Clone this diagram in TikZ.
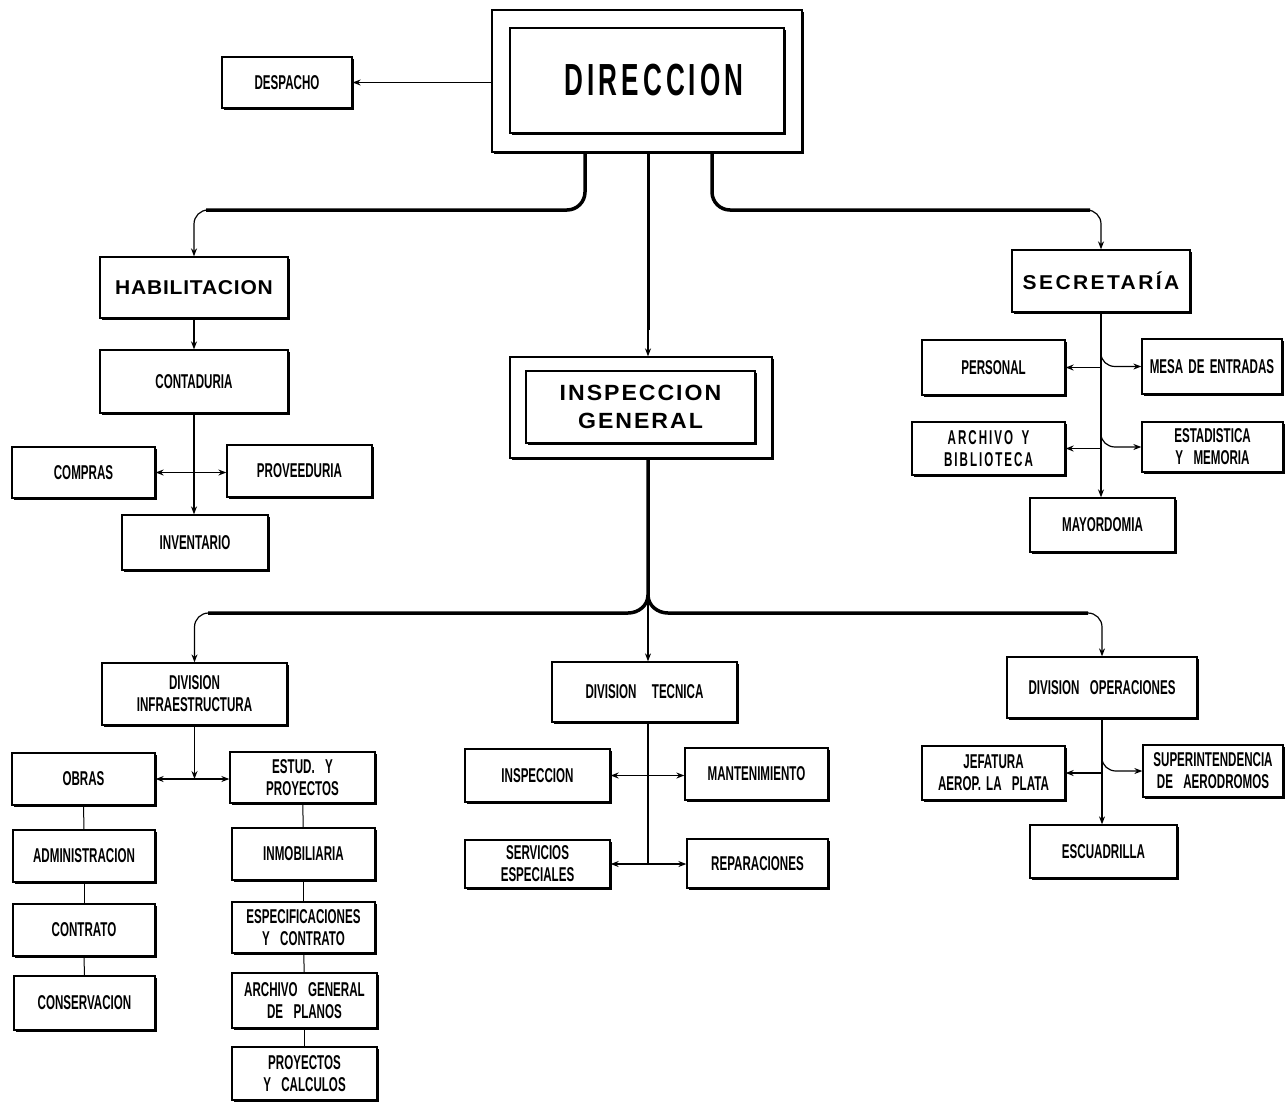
\documentclass[tikz,border=0pt]{standalone}
\usepackage{fontspec}
\usetikzlibrary{arrows.meta,shadows,calc}
\newfontfamily\condf{Liberation Sans Bold}[FakeStretch=0.58,WordSpace=1.6]
\newfontfamily\widef{Liberation Sans Bold}[FakeStretch=1.05,LetterSpace=4]
\newfontfamily\dirf{Liberation Sans Bold}[FakeStretch=0.58,LetterSpace=9]
\tikzset{
  box/.style={draw, line width=1.3pt, fill=white, inner sep=2pt, align=center,
    font=\condf\fontsize{20}{22}\selectfont,
    drop shadow={shadow xshift=2.2pt, shadow yshift=-2.2pt, opacity=1, fill=black}},
  widebox/.style={box, font=\widef\fontsize{20}{28}\selectfont},
  innerbox/.style={draw, line width=2.8pt, fill=white, inner sep=2pt, align=center},
  conn/.style={line width=1.2pt},
  plainconn/.style={line width=1pt},
  arr/.style={conn, -{Stealth[length=8pt,width=6pt]}},
  arrs/.style={conn, {Stealth[length=8pt,width=6pt]}-{Stealth[length=8pt,width=6pt]}},
  trunk/.style={line width=3.5pt},
}
\newcommand{\bx}[7][]{%
  \pgfmathsetmacro\bxcx{(#3+#5)/2}\pgfmathsetmacro\bxcy{(#4+#6)/2}%
  \pgfmathsetmacro\bxw{#5-#3}\pgfmathsetmacro\bxh{#6-#4}%
  \node[box,#1,minimum width=\bxw pt,minimum height=\bxh pt] (#2) at (\bxcx,\bxcy) {#7};}
\begin{document}
\begin{tikzpicture}[x=1pt,y=-1pt]
\useasboundingbox (0,0) rectangle (1287,1104);
% top
\bx{dir}{492}{10}{802}{152}{}
\bx[innerbox,font=\dirf\fontsize{45}{50}\selectfont]{dirin}{510}{28}{784}{133}{\hspace*{14pt}DIRECCION}
\bx{desp}{222}{57}{352}{108}{DESPACHO}
% left
\bx[widebox]{hab}{100}{257}{288}{318}{HABILITACION}
\bx{cont}{100}{350}{288}{413}{CONTADURIA}
\bx{compras}{12}{447}{155}{498}{COMPRAS}
\bx{prov}{227}{445}{372}{497}{PROVEEDURIA}
\bx{inv}{122}{515}{268}{570}{INVENTARIO}
% right
\bx[widebox,font=\widef\fontsize{20}{28}\selectfont\addfontfeature{LetterSpace=12}]{sec}{1012}{250}{1190}{312}{SECRETARÍA}
\bx{personal}{922}{340}{1065}{395}{PERSONAL}
\bx{mesa}{1142}{339}{1282}{394}{MESA DE ENTRADAS}
\bx[font=\condf\fontsize{20}{22}\selectfont\addfontfeature{LetterSpace=10}]{archivo}{912}{422}{1065}{475}{ARCHIVO Y\\BIBLIOTECA}
\bx{estad}{1142}{422}{1283}{472}{ESTADISTICA\\Y\ \ MEMORIA}
\bx{mayord}{1030}{498}{1175}{552}{MAYORDOMIA}
% centre
\bx{ig}{510}{357}{772}{458}{}
\bx[innerbox,font=\widef\fontsize{22}{28}\selectfont\addfontfeature{LetterSpace=9}]{igin}{526}{371}{755}{443}{INSPECCION\\GENERAL}
% bottom left
\bx{divinfra}{102}{663}{287}{725}{DIVISION\\INFRAESTRUCTURA}
\bx{obras}{12}{753}{155}{805}{OBRAS}
\bx{estud}{230}{752}{375}{803}{ESTUD.\ \ Y\\PROYECTOS}
\bx{admin}{13}{830}{155}{882}{ADMINISTRACION}
\bx{contrato}{13}{904}{155}{956}{CONTRATO}
\bx{conserv}{14}{976}{155}{1030}{CONSERVACION}
\bx{inmob}{232}{828}{375}{880}{INMOBILIARIA}
\bx{espec}{232}{902}{375}{953}{ESPECIFICACIONES\\Y\ \ CONTRATO}
\bx{archgen}{232}{973}{377}{1028}{ARCHIVO\ \ GENERAL\\DE\ \ PLANOS}
\bx{proycalc}{232}{1047}{377}{1100}{PROYECTOS\\Y\ \ CALCULOS}
% bottom centre
\bx{divtec}{552}{662}{737}{722}{DIVISION\ \ \ TECNICA}
\bx{inspeccion}{465}{749}{610}{802}{INSPECCION}
\bx{mant}{685}{748}{828}{800}{MANTENIMIENTO}
\bx{servicios}{465}{840}{610}{888}{SERVICIOS\\ESPECIALES}
\bx{repar}{687}{839}{828}{888}{REPARACIONES}
% bottom right
\bx{divop}{1007}{657}{1197}{718}{DIVISION\ \ OPERACIONES}
\bx{jefatura}{922}{746}{1065}{800}{JEFATURA\\AEROP.\ LA\ \ PLATA}
\bx{superint}{1143}{745}{1283}{797}{SUPERINTENDENCIA\\DE\ \ AERODROMOS}
\bx{escuad}{1030}{825}{1177}{878}{ESCUADRILLA}

% ---- connectors from DIRECCION
\draw[arr] (desp.east -| dir.west) -- (desp.east);
\coordinate (dL) at (585,153);
\coordinate (dM) at (648,153);
\coordinate (dR) at (712,153);
\draw[trunk, rounded corners=18pt] (dL) -- (585,210) -- (206,210);
\draw[arr, rounded corners=14pt] (212,210) -| (hab.north);
\draw[trunk, rounded corners=18pt] (dR) -- (712,210) -- (1090,210);
\draw[arr, rounded corners=14pt] (1084,210) -| (sec.north);
\draw[line width=3pt] (dM) -- (648,330);
\draw[arr] (648,320) -- (dM |- ig.north);

% ---- HABILITACION group
\draw[arr] (hab.south) -- (cont.north);
\draw[arr] (cont.south) -- (cont.south |- inv.north);
\draw[arrs] (compras.east) -- (compras.east -| prov.west);

% ---- SECRETARIA group
\draw[line width=2.6pt] (sec.south) -- ++(0,145);
\draw[arr] (sec.south) -- (sec.south |- mayord.north);
\draw[arr] (sec.south |- personal.east) -- (personal.east);
\draw[arr] ($(sec.south |- mesa.west)+(0,-13)$) to[out=-90,in=180] ($(sec.south |- mesa.west)+(14,0)$) -- (mesa.west);
\draw[arr] (sec.south |- archivo.east) -- (archivo.east);
\draw[arr] ($(sec.south |- estad.west)+(0,-13)$) to[out=-90,in=180] ($(sec.south |- estad.west)+(14,0)$) -- (estad.west);

% ---- INSPECCION GENERAL trunk
\coordinate (iM) at (dM |- ig.south);
\coordinate (iJ) at (648,600);
\draw[trunk] (iM) -- (648,595) to[out=-90,in=0] (628,613) -- (208,613);
\draw[trunk] (648,595) to[out=-90,in=180] (668,613) -- (1088,613);
\draw[arr, rounded corners=14pt] (214,613) -| (divinfra.north);
\draw[arr, rounded corners=14pt] (1082,613) -| (divop.north);
\draw[arr] (iJ) -- (iJ |- divtec.north);

% ---- Division Infraestructura
\draw[arr] (divinfra.south) -- (divinfra.south |- obras.east);
\draw[arrs] (obras.east) -- (obras.east -| estud.west);
\draw[plainconn] (obras) -- (admin);
\draw[plainconn] (admin) -- (contrato);
\draw[plainconn] (contrato) -- (conserv);
\draw[plainconn] (estud) -- (inmob);
\draw[plainconn] (inmob) -- (espec);
\draw[plainconn] (espec) -- (archgen);
\draw[plainconn] (archgen) -- (proycalc);

% ---- Division Tecnica
\draw[conn] (iJ |- divtec.south) -- (iJ |- servicios.east);
\draw[arr] (iJ |- inspeccion.east) -- (inspeccion.east);
\draw[arr] (iJ |- inspeccion.east) -- (inspeccion.east -| mant.west);
\draw[arr] (iJ |- servicios.east) -- (servicios.east);
\draw[arr] (iJ |- servicios.east) -- (servicios.east -| repar.west);

% ---- Division Operaciones
\draw[arr] (divop.south) -- (divop.south |- escuad.north);
\draw[arr] (divop.south |- jefatura.east) -- (jefatura.east);
\draw[arr] ($(divop.south |- superint.west)+(0,-13)$) to[out=-90,in=180] ($(divop.south |- superint.west)+(14,0)$) -- (superint.west);
\end{tikzpicture}
\end{document}
